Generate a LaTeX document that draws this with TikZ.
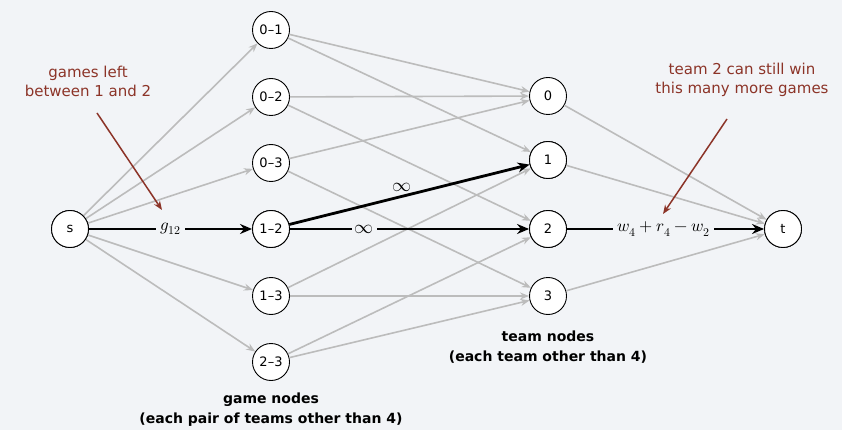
\documentclass[tikz,border=0pt]{standalone}
\usepackage{fontspec}
\usepackage{unicode-math}
\setmainfont{DejaVu Sans}
\setmathfont{Latin Modern Math}
\usetikzlibrary{arrows.meta}
\definecolor{bg}{RGB}{242,244,247}
\definecolor{edgegray}{RGB}{188,188,188}
\definecolor{annot}{RGB}{140,52,40}
\begin{document}
\begin{tikzpicture}[x=1pt,y=-1pt,
  vtx/.style={circle,draw=black,fill=white,line width=0.9pt,minimum size=37pt,inner sep=0pt,font=\fontsize{13}{15}\selectfont},
  gedge/.style={draw=edgegray,line width=1.6pt,-{Stealth[length=9pt,width=7pt]}},
  bedge/.style={draw=black,line width=2.8pt,-{Stealth[length=12pt,width=10pt]}},
  elabel/.style={fill=bg,inner sep=4pt,font=\fontsize{17}{19}\selectfont},
  anote/.style={text=annot,align=center,font=\fontsize{15}{19}\selectfont},
  aarrow/.style={draw=annot,line width=1.5pt,-{Stealth[length=9pt,width=7pt]}},
  blabel/.style={align=center,font=\fontsize{14}{20}\selectfont\bfseries}]
\fill[bg] (0,0) rectangle (842,430);
\useasboundingbox (0,0) rectangle (842,430);
% nodes
\node[vtx] (s) at (70,229) {s};
\node[vtx] (g01) at (271,30) {0–1};
\node[vtx] (g02) at (271,97) {0–2};
\node[vtx] (g03) at (271,163) {0–3};
\node[vtx] (g12) at (271,229) {1–2};
\node[vtx] (g13) at (271,296) {1–3};
\node[vtx] (g23) at (271,362) {2–3};
\node[vtx] (t0) at (548,96) {0};
\node[vtx] (t1) at (548,160) {1};
\node[vtx] (t2) at (548,229) {2};
\node[vtx] (t3) at (548,296) {3};
\node[vtx] (t) at (783,229) {t};
% gray edges
\foreach \g in {g01,g02,g03,g13,g23} \draw[gedge] (s) -- (\g);
\draw[gedge] (g01) -- (t0);
\draw[gedge] (g01) -- (t1);
\draw[gedge] (g02) -- (t0);
\draw[gedge] (g02) -- (t2);
\draw[gedge] (g03) -- (t0);
\draw[gedge] (g03) -- (t3);
\draw[gedge] (g13) -- (t1);
\draw[gedge] (g13) -- (t3);
\draw[gedge] (g23) -- (t2);
\draw[gedge] (g23) -- (t3);
\draw[gedge] (t0) -- (t);
\draw[gedge] (t1) -- (t);
\draw[gedge] (t3) -- (t);
% black edges
\draw[bedge] (s) -- node[elabel] {$g_{12}$} (g12);
\draw[bedge] (g12) -- node[pos=0.47,above=2pt,font=\fontsize{19}{19}\selectfont,inner sep=1pt] {$\infty$} (t1);
\draw[bedge] (g12) -- node[pos=0.31,elabel,font=\fontsize{19}{19}\selectfont,inner sep=3pt] {$\infty$} (t2);
\draw[bedge] (t2) -- node[elabel,pos=0.49] {$w_4 + r_4 - w_2$} (t);
% redraw nodes on top
\node[vtx] at (s) {s};
\node[vtx] at (g12) {1–2};
\node[vtx] at (t1) {1};
\node[vtx] at (t2) {2};
\node[vtx] at (t) {t};
% annotations
\node[anote] (a1) at (88,81) {games left\\between 1 and 2};
\coordinate (a1s) at (97,113);
\coordinate (a1e) at (162,210);
\draw[aarrow] (a1s) -- (a1e);
\node[anote] (a2) at (742,80) {team 2 can still win\\this many more games};
\coordinate (a2s) at (727,119);
\coordinate (a2e) at (663,214);
\draw[aarrow] (a2s) -- (a2e);
% bottom labels
\node[blabel] (bl1) at (271,410) {game nodes\\(each pair of teams other than 4)};
\node[blabel] (bl2) at (548,347) {team nodes\\(each team other than 4)};
\end{tikzpicture}
\end{document}
